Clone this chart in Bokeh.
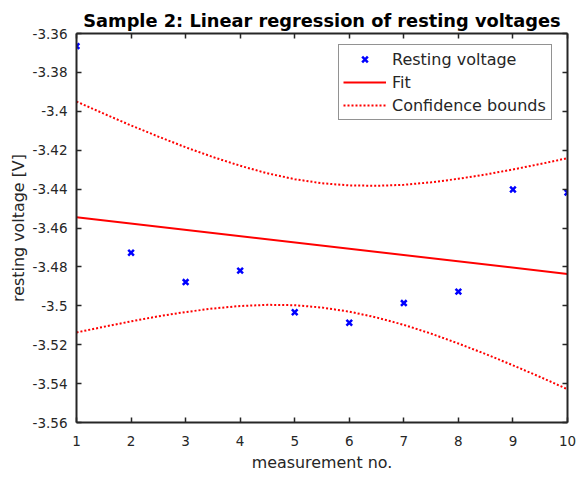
from bokeh.plotting import figure
from bokeh.models import Range1d, LinearAxis, FixedTicker, Legend, LegendItem, CustomLabelingPolicy
from bokeh.embed import file_html
from bokeh.resources import INLINE

# ---- data ----
meas_no = [1, 2, 3, 4, 5, 6, 7, 8, 9, 10]
resting_v = [-3.3665, -3.4727, -3.4878, -3.4819, -3.5033, -3.5087, -3.4986, -3.4927, -3.4402, -3.4418]

fit_x = [1, 10]
fit_v = [-3.4545, -3.4836]

bound_x = [1, 1.5, 2, 2.5, 3, 3.5, 4, 4.5, 5, 5.5, 6, 6.5, 7, 7.5, 8, 8.5, 9, 9.5, 10]
upper_v = [-3.3950, -3.4012, -3.4073, -3.4130, -3.4185, -3.4235, -3.4280, -3.4319, -3.4349, -3.4370,
           -3.4381, -3.4383, -3.4378, -3.4365, -3.4347, -3.4325, -3.4299, -3.4271, -3.4241]
lower_v = [-3.5137, -3.5108, -3.5080, -3.5054, -3.5032, -3.5014, -3.5001, -3.4995, -3.4997, -3.5009,
           -3.5030, -3.5060, -3.5098, -3.5143, -3.5194, -3.5248, -3.5306, -3.5366, -3.5429]

x_ticks = [1, 2, 3, 4, 5, 6, 7, 8, 9, 10]
y_tick_labels = ["-3.56", "-3.54", "-3.52", "-3.5", "-3.48", "-3.46", "-3.44", "-3.42", "-3.4", "-3.38", "-3.36"]
y_ticks = [float(s) for s in y_tick_labels]

title_text = "Sample 2: Linear regression of resting voltages"
x_label = "measurement no."
y_label = "resting voltage [V]"
legend_labels = ["Resting voltage", "Fit", "Confidence bounds"]

FONT = "DejaVu Sans"
TXT = "#262626"

p = figure(width=577, height=477, output_backend="svg", toolbar_location=None,
           x_range=Range1d(1, 10), y_range=Range1d(-3.56, -3.36),
           min_border_left=76, min_border_right=10, min_border_top=33, min_border_bottom=55,
           title=title_text)
p.outline_line_color = None
p.xgrid.visible = False
p.ygrid.visible = False

p.title.text_font = FONT
p.title.text_font_size = "17.8px"
p.title.text_font_style = "bold"
p.title.text_color = "#000000"
p.title.align = "center"
p.title.standoff = -2

hide_labels = CustomLabelingPolicy(code="const all = [...indices]; for (const i of all) { indices.unset(i) } return indices")

def style_axis(ax, ticks, show_labels):
    ax.ticker = FixedTicker(ticks=ticks)
    ax.axis_line_color = TXT
    ax.axis_line_width = 2
    ax.major_tick_in = 5
    ax.major_tick_out = 0
    ax.major_tick_line_color = TXT
    ax.major_tick_line_width = 1.5
    ax.minor_tick_in = 0
    ax.minor_tick_out = 0
    ax.minor_tick_line_color = None
    if show_labels:
        ax.major_label_text_font = FONT
        ax.major_label_text_font_size = "13.5px"
        ax.major_label_text_color = TXT
        ax.axis_label_text_font = FONT
        ax.axis_label_text_font_size = "15.9px"
        ax.axis_label_text_font_style = "normal"
        ax.axis_label_text_color = TXT
    else:
        ax.major_label_policy = hide_labels
        ax.major_label_text_font_size = "1px"
        ax.major_label_standoff = 0

xa = p.xaxis[0]
ya = p.yaxis[0]
style_axis(xa, x_ticks, True)
style_axis(ya, y_ticks, True)
xa.axis_label = x_label
ya.axis_label = y_label
xa.major_label_standoff = 13
xa.axis_label_standoff = 4
ya.major_label_standoff = 9
ya.axis_label_standoff = 2
ya.major_label_overrides = {v: s for v, s in zip(y_ticks, y_tick_labels)}

top_ax = LinearAxis()
right_ax = LinearAxis()
style_axis(top_ax, x_ticks, False)
style_axis(right_ax, y_ticks, False)
p.add_layout(top_ax, "above")
p.add_layout(right_ax, "right")

r_up = p.line(bound_x, upper_v, line_color="#FF0000", line_width=2, line_dash="2 2")
r_lo = p.line(bound_x, lower_v, line_color="#FF0000", line_width=2, line_dash="2 2")
r_fit = p.line(fit_x, fit_v, line_color="#FF0000", line_width=2)
r_pts = p.scatter(meas_no, resting_v, marker="x", size=8, line_color="#0000FF", line_width=2.5)

legend = Legend(items=[LegendItem(label=legend_labels[0], renderers=[r_pts]),
                       LegendItem(label=legend_labels[1], renderers=[r_fit]),
                       LegendItem(label=legend_labels[2], renderers=[r_up])],
                location=(262, 302), margin=0, padding=4, spacing=3,
                glyph_width=43, glyph_height=20, label_height=20, label_width=155,
                label_standoff=6,
                label_text_font=FONT, label_text_font_size="16px", label_text_color=TXT,
                border_line_color=TXT, border_line_width=1.5,
                background_fill_color="white", background_fill_alpha=1.0)
p.add_layout(legend)

open("out.html", "w").write(file_html(p, INLINE))
